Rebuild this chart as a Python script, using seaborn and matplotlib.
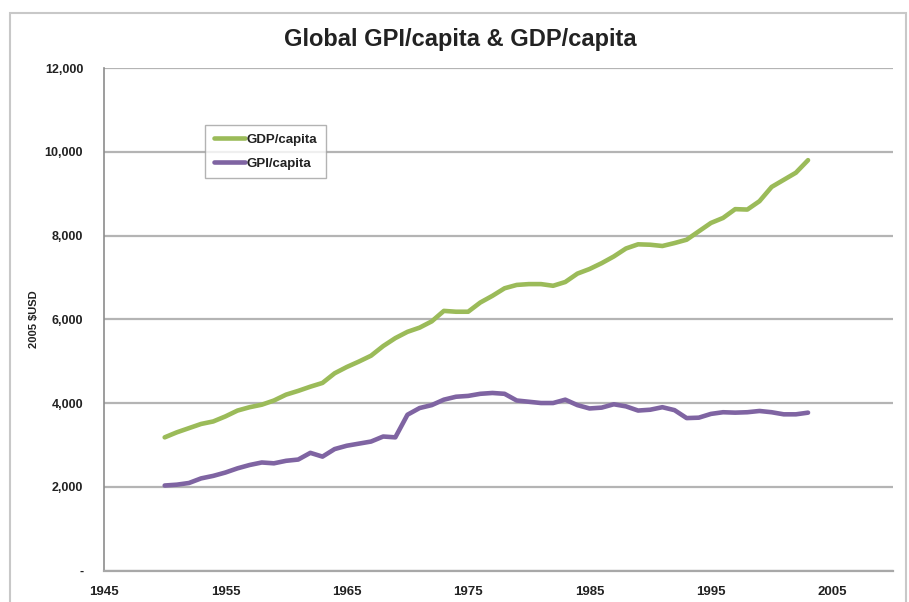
import numpy as np
import pandas as pd
import matplotlib
matplotlib.use("Agg")
import matplotlib.pyplot as plt
import matplotlib.patches as mpatches
from matplotlib.ticker import FuncFormatter
import seaborn as sns

years = list(range(1950, 2004))
gdp_per_capita = [3180, 3300, 3400, 3500, 3560, 3680, 3820, 3900, 3960, 4060,
                  4200, 4290, 4390, 4480, 4710, 4860, 4990, 5130, 5360, 5550,
                  5700, 5800, 5950, 6200, 6180, 6180, 6400, 6560, 6740, 6820,
                  6840, 6840, 6800, 6890, 7090, 7200, 7340, 7500, 7690, 7790,
                  7780, 7750, 7820, 7900, 8100, 8300, 8420, 8630, 8620, 8820,
                  9160, 9330, 9500, 9800]
gpi_per_capita = [2030, 2050, 2090, 2200, 2260, 2340, 2440, 2520, 2580, 2560,
                  2620, 2650, 2810, 2720, 2900, 2980, 3030, 3080, 3200, 3180,
                  3720, 3880, 3950, 4080, 4150, 4170, 4220, 4240, 4220, 4060,
                  4030, 4000, 4000, 4080, 3950, 3870, 3890, 3970, 3920, 3820,
                  3840, 3900, 3830, 3640, 3650, 3740, 3780, 3770, 3780, 3810,
                  3780, 3730, 3730, 3770]
series_names = ["GDP/capita", "GPI/capita"]
x_ticks = [1945, 1955, 1965, 1975, 1985, 1995, 2005]
y_ticks = [0, 2000, 4000, 6000, 8000, 10000, 12000]

df = pd.DataFrame({
    "Year": years * 2,
    "Value": gdp_per_capita + gpi_per_capita,
    "Series": [series_names[0]] * len(years) + [series_names[1]] * len(years),
})

sns.set_theme(style="white")
plt.rcParams["font.family"] = ["Liberation Sans", "DejaVu Sans"]

fig = plt.figure(figsize=(9.09, 6.02), dpi=100)
ax = fig.add_axes([0.1144, 0.0523, 0.868, 0.8347])

# outer chart frame
fig.patches.append(mpatches.Rectangle((10 / 909, -0.05), 896 / 909, 1.05 - 13 / 602,
                                      transform=fig.transFigure, fill=False,
                                      edgecolor="#c8c8c8", linewidth=1.5))

palette = {"GDP/capita": "#9bbb59", "GPI/capita": "#7f64a2"}
sns.lineplot(data=df, x="Year", y="Value", hue="Series", palette=palette,
             linewidth=3.3, ax=ax, legend=True,
             solid_joinstyle="round", solid_capstyle="round")

ax.set_xlim(1945, 2010)
ax.set_ylim(0, 12000)
ax.set_xticks(x_ticks)
ax.set_yticks(y_ticks)
ax.yaxis.set_major_formatter(FuncFormatter(lambda v, p: "-" if v == 0 else f"{int(v):,}"))
ax.grid(axis="y", color="#b4b4b4", linewidth=1.6)
ax.grid(axis="x", visible=False)
for s in ["top", "right"]:
    ax.spines[s].set_visible(False)
ax.spines["left"].set_color("#8c8c8c")
ax.spines["bottom"].set_color("#a8a8a8")
ax.spines["left"].set_linewidth(1.2)
ax.spines["bottom"].set_linewidth(1.6)
ax.tick_params(axis="y", which="major", direction="out", length=4, width=1,
               color="#8c8c8c", labelsize=9, pad=11)
ax.tick_params(axis="x", which="major", direction="inout", length=6, width=1,
               color="#a8a8a8", labelsize=9.5, pad=8)
for lbl in ax.get_xticklabels() + ax.get_yticklabels():
    lbl.set_fontweight("bold")
    lbl.set_color("#222222")

ax.set_xlabel("")
ax.set_ylabel("2005 $USD", fontsize=8, fontweight="bold", color="#222222", labelpad=4)

fig.text(0.506, 0.935, "Global GPI/capita & GDP/capita", ha="center", va="center",
         fontsize=17, fontweight="bold", color="#222222")

leg = ax.legend(loc="upper left", bbox_to_anchor=(0.128, 0.887), frameon=True,
                fancybox=False, edgecolor="#a0a0a0", fontsize=9.5,
                handlelength=2.4, handletextpad=0.1, labelspacing=0.9,
                borderpad=0.65, borderaxespad=0, title=None)
leg.get_frame().set_linewidth(1)
leg.get_frame().set_width(130)
for t in leg.get_texts():
    t.set_fontweight("bold")
    t.set_color("#222222")
for h in leg.get_lines():
    h.set_linewidth(3.3)

fig.savefig("out.png", dpi=100)
